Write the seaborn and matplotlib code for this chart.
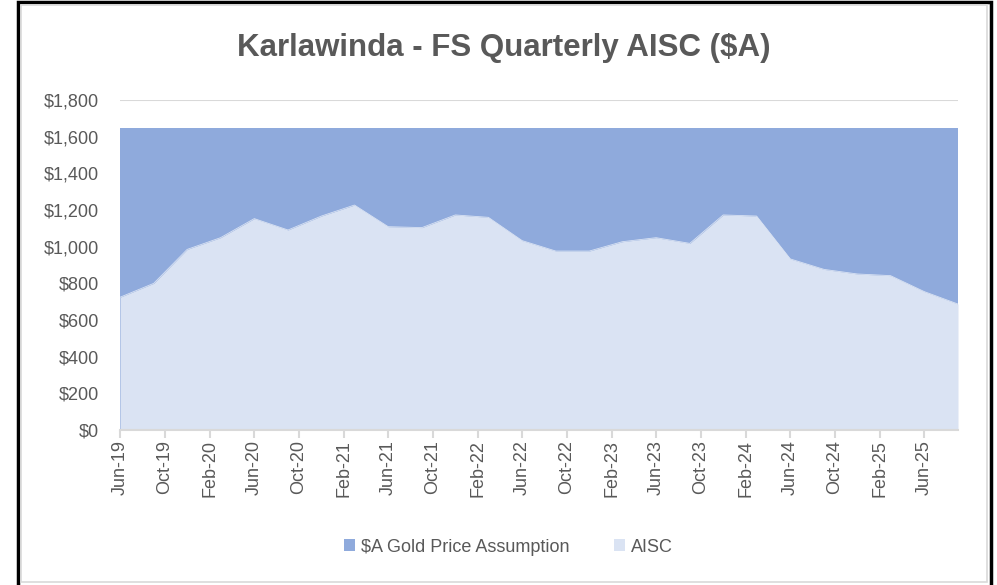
import pandas as pd
import numpy as np
import matplotlib
matplotlib.use('Agg')
import matplotlib.pyplot as plt
import matplotlib.dates as mdates
from matplotlib.patches import Patch, Rectangle
from matplotlib.ticker import FuncFormatter
import seaborn as sns

# quarterly data (first of month used as the date)
quarters = ['2019-06-01', '2019-09-01', '2019-12-01', '2020-03-01', '2020-06-01',
            '2020-09-01', '2020-12-01', '2021-03-01', '2021-06-01', '2021-09-01',
            '2021-12-01', '2022-03-01', '2022-06-01', '2022-09-01', '2022-12-01',
            '2023-03-01', '2023-06-01', '2023-09-01', '2023-12-01', '2024-03-01',
            '2024-06-01', '2024-09-01', '2024-12-01', '2025-03-01', '2025-06-01',
            '2025-09-01']
aisc = [724, 800, 985, 1049, 1153, 1091, 1167, 1227, 1109, 1104,
        1173, 1160, 1033, 976, 976, 1027, 1049, 1018, 1173, 1167,
        933, 876, 851, 842, 755, 687]
gold_price = [1650] * 26

df = pd.DataFrame({'date': pd.to_datetime(quarters), 'AISC': aisc, 'Gold': gold_price})

sns.set_theme(style='white')
plt.rcParams['font.family'] = ['Liberation Sans', 'DejaVu Sans']

GREY = '#595959'
DARK = '#8FAADC'
LIGHT = '#DAE3F3'

fig = plt.figure(figsize=(9.97, 5.85), dpi=100)
ax = fig.add_axes([120 / 997, 1 - 430 / 585, 838 / 997, 330 / 585])

# gridlines behind the areas
for v in range(0, 2000, 200):
    ax.axhline(v, color='#D9D9D9', lw=1.5, zorder=0)

ax.fill_between(df['date'], 0, df['Gold'], color=DARK, lw=0, zorder=1)
ax.fill_between(df['date'], 0, df['AISC'], color=LIGHT, lw=0, zorder=2)
sns.lineplot(data=df, x='date', y='Gold', color=DARK, lw=0.6, ax=ax, zorder=1.5, legend=False)
sns.lineplot(data=df, x='date', y='AISC', color=LIGHT, lw=0.6, ax=ax, zorder=2.5, legend=False)

ax.set_xlim(df['date'].iloc[0], df['date'].iloc[-1])
ax.set_ylim(0, 1800)
ax.set_yticks(range(0, 2000, 200))
ax.yaxis.set_major_formatter(FuncFormatter(lambda v, p: f'${v:,.0f}'))
ax.xaxis.set_major_locator(mdates.MonthLocator(bymonth=[2, 6, 10]))
ax.xaxis.set_major_formatter(mdates.DateFormatter('%b-%y'))
ax.set_xlabel('')
ax.set_ylabel('')

for s in ['top', 'right', 'left']:
    ax.spines[s].set_visible(False)
ax.spines['bottom'].set_color('#D9D9D9')
ax.spines['bottom'].set_linewidth(1.5)
ax.spines['bottom'].set_zorder(5)

ax.tick_params(axis='x', bottom=True, length=6, width=1.5, color='#D9D9D9',
               labelsize=13, labelcolor=GREY, rotation=90, pad=1)
ax.tick_params(axis='y', left=False, labelsize=13, labelcolor=GREY, pad=9)

fig.text(504 / 997, 1 - 48 / 585, 'Karlawinda - FS Quarterly AISC ($A)', ha='center', va='center',
         fontsize=22.5, fontweight='bold', color=GREY)

handles = [Patch(facecolor=DARK, edgecolor='none', label='$A Gold Price Assumption'),
           Patch(facecolor=LIGHT, edgecolor='none', label='AISC')]
fig.legend(handles=handles, loc='center', bbox_to_anchor=(0.51, 1 - 547 / 585), ncol=2,
           frameon=False, fontsize=13, labelcolor=GREY, handlelength=0.6, handleheight=0.6,
           handletextpad=0.3, columnspacing=2.5)

# outer frame
fig.patches.append(Rectangle((18 / 997, -0.01), (991 - 18) / 997, 1 - 2 / 585 + 0.01,
                             transform=fig.transFigure, fill=False, edgecolor='black', lw=2.5))
fig.patches.append(Rectangle((21 / 997, 3 / 585), (987 - 21) / 997, 1 - 8 / 585,
                             transform=fig.transFigure, fill=False, edgecolor='#D9D9D9', lw=1.2))

fig.savefig('out.png', dpi=100)
